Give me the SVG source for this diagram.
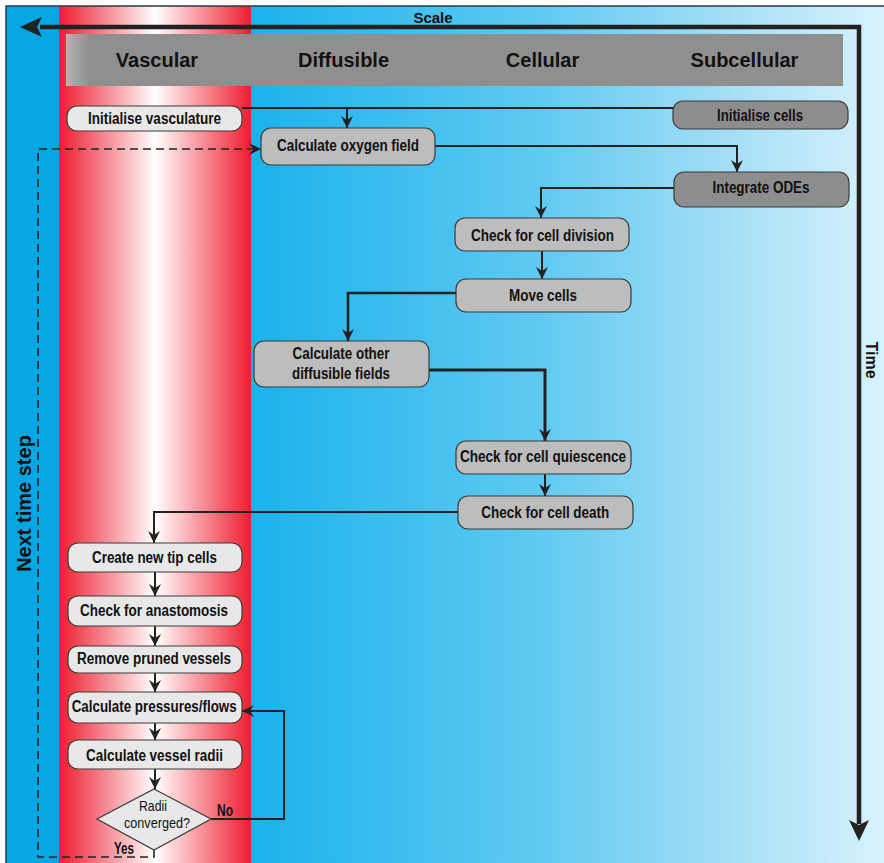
<svg xmlns="http://www.w3.org/2000/svg" width="884" height="863" viewBox="0 0 884 863">
<defs>
<linearGradient id="red" x1="0" y1="0" x2="1" y2="0">
<stop offset="0" stop-color="#ee1c2e"/>
<stop offset="0.5" stop-color="#ffffff"/>
<stop offset="1" stop-color="#ee1c2e"/>
</linearGradient>
<linearGradient id="blue" x1="0" y1="0" x2="1" y2="0">
<stop offset="0" stop-color="#1bb2ec"/>
<stop offset="0.45" stop-color="#5fc9f1"/>
<stop offset="0.75" stop-color="#a3def6"/>
<stop offset="1" stop-color="#d8f2fc"/>
</linearGradient>
<linearGradient id="hdr" x1="0" y1="0" x2="1" y2="0">
<stop offset="0" stop-color="#b4b4b4"/>
<stop offset="0.03" stop-color="#8f8f8f"/>
<stop offset="1" stop-color="#8f8f8f"/>
</linearGradient>
<marker id="ah" viewBox="-12 -6 12 12" refX="0" refY="0" markerWidth="12" markerHeight="12" orient="auto" markerUnits="userSpaceOnUse">
<path d="M0,0 L-12,-6 L-8,0 L-12,6 Z" fill="#222"/>
</marker>
<style>
.n{stroke:#3a3a3a;stroke-width:1.2}
.v{fill:#e8e8e8}
.c{fill:#bdbdbd}
.s{fill:#8d8d8d}
.t{font-family:"Liberation Sans",Arial,sans-serif;font-weight:bold;font-size:16px;fill:#111;text-anchor:middle}
.h{font-family:"Liberation Sans",Arial,sans-serif;font-weight:bold;font-size:20px;fill:#111;text-anchor:middle}
.r{font-family:"Liberation Sans",Arial,sans-serif;font-size:15px;fill:#111;text-anchor:middle}
.ln{fill:none;stroke:#222;stroke-width:2}
.ax{fill:none;stroke:#222;stroke-width:4.5}
</style>
</defs>
<rect x="0" y="0" width="884" height="863" fill="#ffffff"/>
<g id="background">
<rect x="6" y="6" width="54" height="857" fill="#05a6e4"/>
<rect x="59" y="6" width="192" height="857" fill="url(#red)"/>
<rect x="251" y="6" width="633" height="857" fill="url(#blue)"/>
<rect x="6" y="6" width="890" height="870" fill="none" stroke="#2b3a48" stroke-width="1.5"/>
</g>
<g id="header">
<rect x="66" y="34" width="777" height="52" fill="url(#hdr)"/>
<text class="h" x="157" y="67">Vascular</text>
<text class="h" x="343.5" y="67">Diffusible</text>
<text class="h" x="542.5" y="67">Cellular</text>
<text class="h" x="744.5" y="67">Subcellular</text>
</g>
<g id="axes">
<path class="ax" d="M40,27 H859 V824"/>
<path d="M20,27 L42,17 L37,27 L42,37 Z" fill="#222"/>
<path d="M859,841 L849,820 L859,825 L869,820 Z" fill="#222"/>
<text x="433" y="22.5" style="font-family:'Liberation Sans',Arial,sans-serif;font-weight:bold;font-size:15px;fill:#111;text-anchor:middle">Scale</text>
<text transform="translate(866,360) rotate(90)" style="font-family:'Liberation Sans',Arial,sans-serif;font-weight:bold;font-size:16px;fill:#111;text-anchor:middle">Time</text>
<text transform="translate(31,503.5) rotate(-90)" style="font-family:'Liberation Sans',Arial,sans-serif;font-weight:bold;font-size:20px;fill:#111;text-anchor:middle">Next time step</text>
</g>
<g id="connectors">
<path class="ln" d="M242,108 H673"/>
<path class="ln" d="M347,108 V128" marker-end="url(#ah)"/>
<path class="ln" d="M435,146 H737 V172" marker-end="url(#ah)"/>
<path class="ln" d="M674,188 H541 V218" marker-end="url(#ah)"/>
<path class="ln" d="M542,251 V279" marker-end="url(#ah)"/>
<path class="ln" d="M456,293 H348 V341" marker-end="url(#ah)" style="stroke-width:2.5"/>
<path class="ln" d="M429,370 H545 V441" marker-end="url(#ah)" style="stroke-width:3"/>
<path class="ln" d="M545,474 V496" marker-end="url(#ah)"/>
<path class="ln" d="M458,512 H154 V543" marker-end="url(#ah)"/>
<path class="ln" d="M155,572 V596" marker-end="url(#ah)"/>
<path class="ln" d="M155,626 V646" marker-end="url(#ah)"/>
<path class="ln" d="M155,673 V692" marker-end="url(#ah)"/>
<path class="ln" d="M155,723 V740" marker-end="url(#ah)"/>
<path class="ln" d="M155,769 V789" marker-end="url(#ah)"/>
<path class="ln" d="M211,819 H284 V711 H242" marker-end="url(#ah)"/>
<path class="ln" d="M154,850 V857 H38 V149 H261" marker-end="url(#ah)" style="stroke-width:1.6;stroke-dasharray:8 5"/>
<text class="t" x="225" y="815.5" textLength="16" lengthAdjust="spacingAndGlyphs">No</text>
<text class="t" x="124" y="854" textLength="20" lengthAdjust="spacingAndGlyphs">Yes</text>
</g>
<g id="init-vasculature">
<rect class="n v" x="67" y="106" width="175" height="25" rx="10"/>
<text class="t" x="154.5" y="124" textLength="133" lengthAdjust="spacingAndGlyphs">Initialise vasculature</text>
</g>
<g id="init-cells">
<rect class="n s" x="673" y="101" width="175" height="28" rx="10"/>
<text class="t" x="760" y="120.5" textLength="86" lengthAdjust="spacingAndGlyphs">Initialise cells</text>
</g>
<g id="oxygen">
<rect class="n c" x="261" y="128" width="174" height="37" rx="10"/>
<text class="t" x="348" y="151" textLength="142" lengthAdjust="spacingAndGlyphs">Calculate oxygen field</text>
</g>
<g id="odes">
<rect class="n s" x="674" y="172" width="175" height="35" rx="10"/>
<text class="t" x="761" y="193" textLength="97" lengthAdjust="spacingAndGlyphs">Integrate ODEs</text>
</g>
<g id="division">
<rect class="n c" x="455" y="218" width="174" height="33" rx="10"/>
<text class="t" x="542.5" y="240.5" textLength="143" lengthAdjust="spacingAndGlyphs">Check for cell division</text>
</g>
<g id="move">
<rect class="n c" x="456" y="279" width="175" height="33" rx="10"/>
<text class="t" x="543" y="301" textLength="68" lengthAdjust="spacingAndGlyphs">Move cells</text>
</g>
<g id="other-fields">
<rect class="n c" x="254" y="341" width="175" height="46" rx="10"/>
<text class="t" x="341" y="359" textLength="97" lengthAdjust="spacingAndGlyphs">Calculate other</text>
<text class="t" x="341" y="379" textLength="98" lengthAdjust="spacingAndGlyphs">diffusible fields</text>
</g>
<g id="quiescence">
<rect class="n c" x="456" y="441" width="175" height="33" rx="10"/>
<text class="t" x="543" y="461.5" textLength="166" lengthAdjust="spacingAndGlyphs">Check for cell quiescence</text>
</g>
<g id="death">
<rect class="n c" x="458" y="496" width="175" height="33" rx="10"/>
<text class="t" x="545.3" y="518" textLength="128" lengthAdjust="spacingAndGlyphs">Check for cell death</text>
</g>
<g id="tip-cells">
<rect class="n v" x="68" y="543" width="174" height="29" rx="10"/>
<text class="t" x="154.5" y="562.7" textLength="125" lengthAdjust="spacingAndGlyphs">Create new tip cells</text>
</g>
<g id="anastomosis">
<rect class="n v" x="68" y="596" width="174" height="30" rx="10"/>
<text class="t" x="154" y="615.7" textLength="148" lengthAdjust="spacingAndGlyphs">Check for anastomosis</text>
</g>
<g id="pruned">
<rect class="n v" x="68" y="646" width="174" height="27" rx="10"/>
<text class="t" x="154" y="663.5" textLength="154" lengthAdjust="spacingAndGlyphs">Remove pruned vessels</text>
</g>
<g id="pressures">
<rect class="n v" x="68" y="692" width="174" height="31" rx="10"/>
<text class="t" x="154.2" y="711.7" textLength="165" lengthAdjust="spacingAndGlyphs">Calculate pressures/flows</text>
</g>
<g id="radii">
<rect class="n v" x="68" y="740" width="174" height="29" rx="10"/>
<text class="t" x="154.5" y="760.7" textLength="137" lengthAdjust="spacingAndGlyphs">Calculate vessel radii</text>
</g>
<g id="converged">
<polygon class="n v" points="154,789 211,819 154,850 97,819"/>
<text class="r" x="153" y="811" textLength="28" lengthAdjust="spacingAndGlyphs">Radii</text>
<text class="r" x="157" y="828" textLength="66" lengthAdjust="spacingAndGlyphs">converged?</text>
</g>
</svg>
